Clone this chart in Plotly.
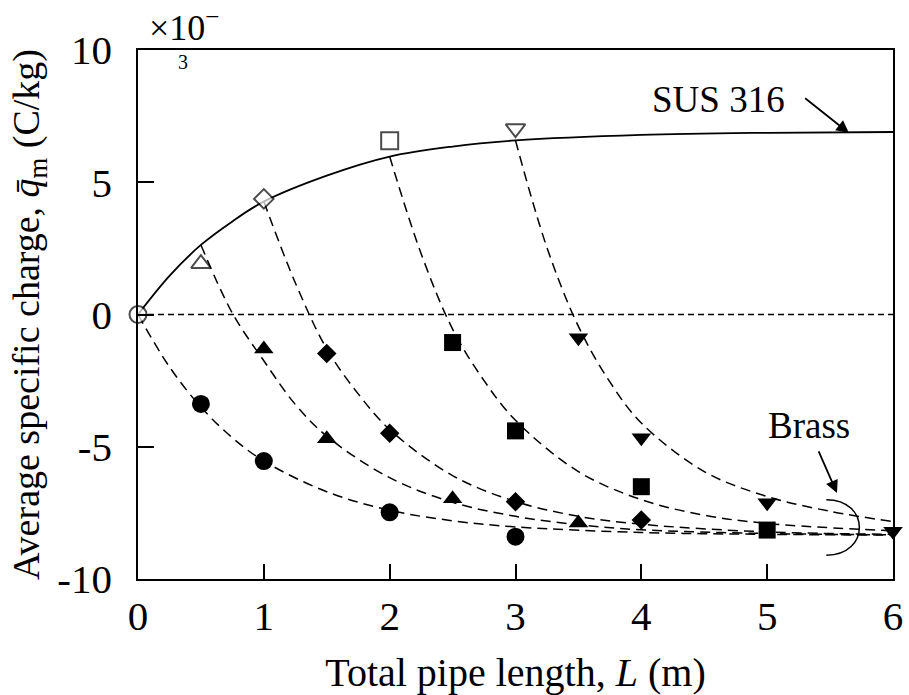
import plotly.graph_objects as go

# --- SUS 316 pipe: measured points and charging curve ---
sus_x = [0, 0.5, 1, 2, 3]
sus_y = [0, 1.92, 4.37, 6.57, 7.03]
sus_symbols = ["circle", "triangle-up", "diamond", "square", "triangle-down"]
sus_sizes = [17, 17, 15, 17, 17]

sus_curve_x = [0, 0.25, 0.5, 0.75, 1, 1.5, 2, 2.5, 3, 4, 5, 6]
sus_curve_y = [0, 1.46, 2.63, 3.52, 4.27, 5.25, 5.97, 6.35, 6.58, 6.79, 6.87, 6.9]

# --- Brass pipe added after each SUS length: measured points ---
brass_circle_x = [0.5, 1, 2, 3]
brass_circle_y = [-3.38, -5.54, -7.48, -8.4]
brass_tri_up_x = [1, 1.5, 2.5, 3.5]
brass_tri_up_y = [-1.3, -4.7, -6.97, -7.88]
brass_diamond_x = [1.5, 2, 3, 4]
brass_diamond_y = [-1.47, -4.49, -7.08, -7.77]
brass_square_x = [2.5, 3, 4, 5]
brass_square_y = [-1.06, -4.40, -6.51, -8.15]
brass_tri_down_x = [3.5, 4, 5, 6]
brass_tri_down_y = [-0.88, -4.66, -7.12, -8.19]

# --- Brass discharge curves ---
curve_circle_x = [0, 0.25, 0.5, 0.75, 1, 1.5, 2, 2.5, 3, 4, 5, 6]
curve_circle_y = [0, -1.98, -3.5, -4.66, -5.54, -6.7, -7.4, -7.8, -8.03, -8.24, -8.31, -8.34]
curve_tri_up_x = [0.5, 0.75, 1, 1.25, 1.5, 2, 2.5, 3, 3.5, 4, 5, 6]
curve_tri_up_y = [2.63, 0.05, -1.75, -3.4, -4.6, -6.17, -7.1, -7.63, -7.95, -8.14, -8.28, -8.33]
curve_diamond_x = [1, 1.25, 1.5, 1.75, 2, 2.5, 3, 3.5, 4, 5, 6]
curve_diamond_y = [4.27, 1.2, -1.3, -3.0, -4.35, -6.09, -7.07, -7.63, -7.93, -8.22, -8.31]
curve_square_x = [2, 2.25, 2.5, 2.75, 3, 3.5, 4, 4.5, 5, 6]
curve_square_y = [5.97, 2.3, -0.55, -2.5, -4.0, -5.94, -7.0, -7.59, -7.9, -8.18]
curve_tri_down_x = [3, 3.25, 3.5, 3.75, 4, 4.5, 5, 5.5, 6]
curve_tri_down_y = [6.58, 2.53, -0.45, -2.55, -4.1, -5.94, -6.88, -7.44, -7.83]

x_ticks = [0, 1, 2, 3, 4, 5, 6]
y_ticks = [-10, -5, 0, 5, 10]
y_tick_text = ["-10", "-5", "0", "5", "10"]

FONT = "Liberation Serif, Times New Roman, serif"
DASH = "10px,6px"
TICK_TXT = 41
TITLE_TXT = 40
NOTE_TXT = 37

fig = go.Figure()

# dashed brass curves
for cx, cy in [
    (curve_circle_x, curve_circle_y),
    (curve_tri_up_x, curve_tri_up_y),
    (curve_diamond_x, curve_diamond_y),
    (curve_square_x, curve_square_y),
    (curve_tri_down_x, curve_tri_down_y),
]:
    fig.add_trace(go.Scatter(
        x=cx, y=cy, mode="lines",
        line=dict(color="black", width=1.5, dash=DASH, shape="spline", smoothing=1.0),
        hoverinfo="skip", showlegend=False,
    ))

# solid SUS 316 curve
fig.add_trace(go.Scatter(
    x=sus_curve_x, y=sus_curve_y, mode="lines",
    line=dict(color="black", width=1.8, shape="spline", smoothing=1.0),
    hoverinfo="skip", showlegend=False,
))

# filled brass markers
for mx, my, sym, sz in [
    (brass_circle_x, brass_circle_y, "circle", 18),
    (brass_tri_up_x, brass_tri_up_y, "triangle-up", 17),
    (brass_diamond_x, brass_diamond_y, "diamond", 15),
    (brass_square_x, brass_square_y, "square", 17),
    (brass_tri_down_x, brass_tri_down_y, "triangle-down", 17),
]:
    fig.add_trace(go.Scatter(
        x=mx, y=my, mode="markers",
        marker=dict(symbol=sym, size=sz, color="black", line=dict(color="black", width=0)),
        showlegend=False, cliponaxis=False,
    ))

# open SUS markers
fig.add_trace(go.Scatter(
    x=sus_x, y=sus_y, mode="markers",
    marker=dict(symbol=sus_symbols, size=sus_sizes, color="white",
                line=dict(color="black", width=2)),
    showlegend=False, cliponaxis=False,
))

# zero reference line
fig.add_shape(type="line", x0=0, x1=6, y0=0, y1=0, xref="x", yref="y",
              line=dict(color="black", width=1.5, dash="6px,4px"), layer="below")

# bracket grouping the brass curves
fig.add_shape(type="path", xref="x", yref="y",
              path="M 5.47,-7.0 C 5.82,-7.0 5.82,-9.1 5.47,-9.1",
              line=dict(color="black", width=1.5))

ann_font = dict(family=FONT, size=NOTE_TXT, color="black")
fig.add_annotation(x=4.61, y=8.11, xref="x", yref="y", text="SUS 316",
                   showarrow=False, font=ann_font)
fig.add_annotation(x=5.65, y=6.86, ax=5.29, ay=8.22, axref="x", ayref="y",
                   xref="x", yref="y", text="", showarrow=True,
                   arrowhead=2, arrowsize=1.4, arrowwidth=1.8, arrowcolor="black")
fig.add_annotation(x=5.33, y=-4.18, xref="x", yref="y", text="Brass",
                   showarrow=False, font=ann_font)
fig.add_annotation(x=5.555, y=-6.75, ax=5.404, ay=-5.12, axref="x", ayref="y",
                   xref="x", yref="y", text="", showarrow=True,
                   arrowhead=2, arrowsize=1.4, arrowwidth=1.8, arrowcolor="black")

# axis multiplier
fig.add_annotation(x=0.012, y=1.047, xref="paper", yref="paper", xanchor="left",
                   yanchor="middle", text="×10<sup>−</sup>", showarrow=False,
                   font=dict(family=FONT, size=36, color="black"))
fig.add_annotation(x=0.0596, y=0.977, xref="paper", yref="paper",
                   xanchor="center", yanchor="middle",
                   text="3", showarrow=False,
                   font=dict(family=FONT, size=20, color="black"))

fig.update_layout(
    width=909, height=695,
    margin=dict(l=138, r=16, t=50, b=116, autoexpand=False),
    paper_bgcolor="white", plot_bgcolor="white",
    font=dict(family=FONT, color="black", size=TICK_TXT),
)
fig.update_xaxes(
    range=[0, 6], tickvals=x_ticks, ticktext=[str(v) for v in x_ticks],
    showgrid=False, zeroline=False, automargin=False,
    showline=True, linecolor="black", linewidth=1.8, mirror=True,
    ticks="inside", ticklen=15, tickwidth=1.5, tickcolor="black",
    ticklabelstandoff=0,
    tickfont=dict(family=FONT, size=TICK_TXT),
    title=dict(text="Total pipe length, <i>L</i> (m)",
               font=dict(family=FONT, size=TITLE_TXT), standoff=36),
)
fig.update_yaxes(
    range=[-10, 10], tickvals=y_ticks, ticktext=y_tick_text,
    showgrid=False, zeroline=False, automargin=False,
    showline=True, linecolor="black", linewidth=1.8, mirror=True,
    ticks="inside", ticklen=16, tickwidth=1.5, tickcolor="black",
    ticklabelstandoff=16,
    tickfont=dict(family=FONT, size=TICK_TXT),
    title=dict(text="Average specific charge, <i>q̄</i><sub>m</sub> (C/kg)",
               font=dict(family=FONT, size=38), standoff=6),
)

fig.write_html("out.html")
